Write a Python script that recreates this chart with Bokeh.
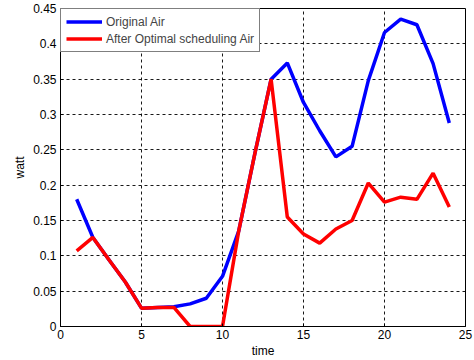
from bokeh.plotting import figure
from bokeh.models import Range1d, FixedTicker, CustomJSTickFormatter, Legend, LegendItem
from bokeh.embed import file_html
from bokeh.resources import INLINE

hours = list(range(1, 25))
original_air = [0.180, 0.126, 0.094, 0.063, 0.026, 0.027, 0.028, 0.032, 0.040, 0.071,
                0.135, 0.245, 0.350, 0.373, 0.317, 0.277, 0.240, 0.255, 0.348, 0.416,
                0.435, 0.427, 0.372, 0.288]
optimal_air = [0.107, 0.126, 0.094, 0.063, 0.026, 0.027, 0.027, 0.000, 0.000, 0.000,
               0.135, 0.245, 0.350, 0.155, 0.131, 0.118, 0.138, 0.150, 0.203, 0.176,
               0.183, 0.180, 0.217, 0.169]
series_names = ["Original Air", "After Optimal scheduling Air"]
x_ticks = [0, 5, 10, 15, 20, 25]
y_ticks = [0, 0.05, 0.1, 0.15, 0.2, 0.25, 0.3, 0.35, 0.4, 0.45]

FONT = "Liberation Sans"

p = figure(width=474, height=360, output_backend="svg", toolbar_location=None,
           x_range=Range1d(0, 25), y_range=Range1d(0, 0.45),
           min_border_left=60, min_border_right=9, min_border_top=8, min_border_bottom=34)
p.background_fill_color = "white"
p.border_fill_color = "white"
p.outline_line_color = "black"
p.outline_line_width = 1
p.outline_line_alpha = 1

fmt = CustomJSTickFormatter(code="return (Math.round(tick*100)/100).toString();")
for ax, ticks in ((p.xaxis[0], x_ticks), (p.yaxis[0], y_ticks)):
    ax.ticker = FixedTicker(ticks=ticks)
    ax.formatter = fmt
    ax.major_label_text_font = FONT
    ax.major_label_text_font_size = "12px"
    ax.major_label_text_color = "black"
    ax.axis_label_text_font = FONT
    ax.axis_label_text_font_size = "12px"
    ax.axis_label_text_font_style = "normal"
    ax.axis_label_text_color = "black"
    ax.major_tick_in = 3
    ax.major_tick_out = 0
    ax.minor_tick_line_color = None
    ax.axis_line_color = "black"
    ax.major_label_standoff = 4
    ax.axis_label_standoff = 3
p.xaxis.major_label_standoff = 3
p.xaxis.axis_label_standoff = 2

p.xaxis.axis_label = "time"
p.yaxis.axis_label = "watt"

for g in (p.xgrid[0], p.ygrid[0]):
    g.grid_line_color = "black"
    g.grid_line_dash = "3 3"
    g.grid_line_width = 1
    g.grid_line_alpha = 0.9
p.xgrid.ticker = FixedTicker(ticks=x_ticks)
p.ygrid.ticker = FixedTicker(ticks=y_ticks)

r1 = p.line(hours, original_air, line_color="#0000ff", line_width=3.5)
r2 = p.line(hours, optimal_air, line_color="#ff0000", line_width=3.5)

legend = Legend(items=[LegendItem(label=series_names[0], renderers=[r1]),
                       LegendItem(label=series_names[1], renderers=[r2])],
                location="top_left")
legend.margin = 0
legend.padding = 5
legend.spacing = 2
legend.glyph_width = 36
legend.glyph_height = 15
legend.label_height = 15
legend.label_standoff = 4
legend.label_text_font = FONT
legend.label_text_font_size = "12px"
legend.border_line_color = "black"
legend.border_line_width = 1
legend.background_fill_color = "white"
legend.background_fill_alpha = 1
p.add_layout(legend)

open("out.html", "w").write(file_html(p, INLINE))
